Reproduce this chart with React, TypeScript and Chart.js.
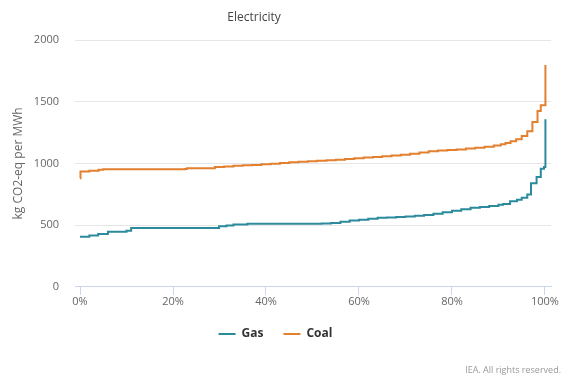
import React, { useEffect, useRef } from "react";
import { Chart, registerables } from "chart.js";

Chart.register(...registerables);

const chartTitle = "Electricity";
const yAxisTitle = "kg CO2-eq per MWh";
const creditText = "IEA. All rights reserved.";
const xTickValues = [0, 20, 40, 60, 80, 100];

const gasShare = [0, 2, 3.9, 6, 10, 11, 29.9, 31.5, 33, 36, 50.5, 52, 54, 56, 58, 60, 62, 64, 66, 68, 70, 72, 74, 76, 78, 80, 82, 84, 86, 88, 90, 91, 92.5, 94, 95, 96.2, 97, 98.2, 99.1, 99.8, 100.1];
const gasValues = [406, 415, 428, 447, 455, 477, 490, 497, 504, 510, 510, 512, 518, 528, 537, 544, 552, 559, 561, 565, 569, 575, 582, 592, 604, 617, 628, 640, 647, 654, 664, 672, 694, 705, 721, 748, 840, 889, 957, 970, 1358];

const coalShare = [0, 0.1, 2, 4, 5, 10, 22.6, 23, 29, 31, 33, 35, 37, 39, 41, 43, 45, 47, 49, 51, 53, 55, 57, 59, 61, 63, 65, 67, 69, 71, 73, 75, 77, 79, 81, 83, 85, 87, 89, 90.5, 91.5, 92.6, 93.8, 95, 96.2, 97.3, 98.4, 99.1, 100.1];
const coalValues = [880, 935, 940, 948, 952, 952, 955, 960, 970, 975, 980, 984, 988, 993, 998, 1004, 1010, 1014, 1018, 1021, 1025, 1030, 1036, 1042, 1047, 1052, 1058, 1064, 1070, 1078, 1088, 1098, 1104, 1109, 1113, 1120, 1127, 1135, 1145, 1155, 1165, 1180, 1195, 1222, 1260, 1336, 1425, 1472, 1797];

const seriesNames = ["Gas", "Coal"];
const seriesColors = ["#2b8a9c", "#e3802f"];

const FONT = "'Open Sans', 'Noto Sans', sans-serif";

const textPlugin = {
  id: "customTexts",
  afterDraw(chart: any) {
    const ctx = chart.ctx;
    ctx.save();
    ctx.font = `12px ${FONT}`;
    ctx.fillStyle = "#444444";
    ctx.textAlign = "center";
    ctx.textBaseline = "middle";
    ctx.fillText(chartTitle, 254, 18);
    ctx.font = `9px ${FONT}`;
    ctx.fillStyle = "#999999";
    ctx.textAlign = "right";
    ctx.fillText(creditText, 561, 370);
    ctx.restore();
  },
};

export default function App() {
  const canvasRef = useRef<HTMLCanvasElement | null>(null);

  useEffect(() => {
    document.body.style.margin = "0";
    const canvas = canvasRef.current;
    if (!canvas) return;
    const toPoints = (xs: number[], ys: number[]) => xs.map((x, i) => ({ x, y: ys[i] }));
    const chart = new Chart(canvas, {
      type: "line",
      data: {
        datasets: [
          {
            label: seriesNames[0],
            data: toPoints(gasShare, gasValues),
            borderColor: seriesColors[0],
            backgroundColor: seriesColors[0],
            borderWidth: 2,
            pointRadius: 0,
            stepped: true,
            fill: false,
          },
          {
            label: seriesNames[1],
            data: toPoints(coalShare, coalValues),
            borderColor: seriesColors[1],
            backgroundColor: seriesColors[1],
            borderWidth: 2,
            pointRadius: 0,
            stepped: true,
            fill: false,
          },
        ],
      },
      options: {
        animation: false,
        responsive: false,
        maintainAspectRatio: false,
        layout: { padding: { top: 40, left: 0, right: 20, bottom: 31 } },
        plugins: {
          title: { display: false },
          tooltip: { enabled: false },
          legend: {
            display: true,
            position: "bottom",
            labels: {
              usePointStyle: true,
              pointStyle: "line",
              pointStyleWidth: 17,
              padding: 20,
              color: "#333333",
              font: { family: FONT, size: 12, weight: "bold" },
            },
          },
        },
        scales: {
          x: {
            type: "linear",
            min: -1.08,
            max: 101.3,
            afterBuildTicks: (scale: any) => {
              scale.ticks = xTickValues.map((v) => ({ value: v }));
            },
            grid: {
              display: true,
              drawOnChartArea: false,
              drawTicks: true,
              tickLength: 8,
              color: "#ccd6eb",
            },
            border: { display: true, color: "#ccd6eb" },
            ticks: {
              padding: 0,
              color: "#666666",
              font: { family: FONT, size: 11 },
              callback: (v: any) => `${v}%`,
              maxRotation: 0,
            },
          },
          y: {
            type: "linear",
            min: 0,
            max: 2000,
            afterFit: (scale: any) => {
              scale.width = 75;
            },
            grid: { color: "#e6e6e6", drawTicks: false },
            border: { display: false },
            ticks: {
              stepSize: 500,
              padding: 16,
              color: "#666666",
              font: { family: FONT, size: 11 },
              callback: (v: any) => `${v}`,
            },
            title: {
              display: true,
              text: yAxisTitle,
              color: "#666666",
              font: { family: FONT, size: 12 },
              padding: { top: 11, bottom: 0 },
            },
          },
        },
      },
      plugins: [textPlugin],
    });
    return () => chart.destroy();
  }, []);

  return (
    <div style={{ position: "relative", width: 571, height: 381 }}>
      <canvas ref={canvasRef} width={571} height={381} style={{ width: 571, height: 381, display: "block" }} />
    </div>
  );
}
